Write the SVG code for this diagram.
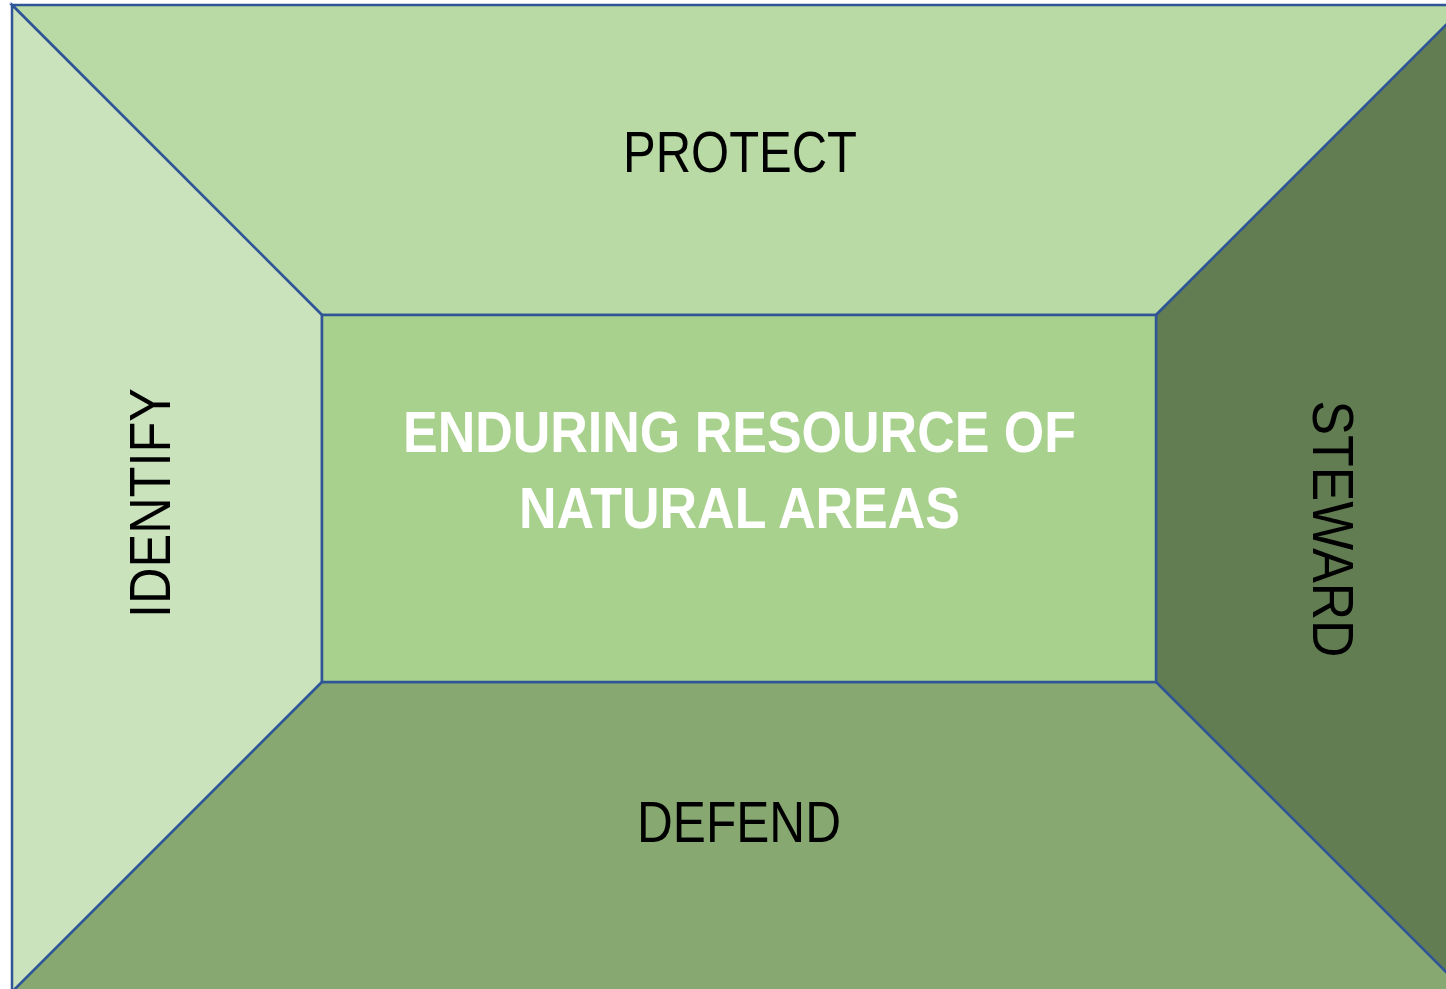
<svg xmlns="http://www.w3.org/2000/svg" width="1446" height="989" viewBox="0 0 1446 989">
<style>
.s{stroke:#2F5597;stroke-width:2.5;stroke-linejoin:miter}
.lbl{font-family:"Liberation Sans",Arial,sans-serif;font-size:57px;fill:#000;text-anchor:middle}
.ctr{font-family:"Liberation Sans",Arial,sans-serif;font-size:57px;font-weight:bold;fill:#fff;text-anchor:middle}
</style>
<rect width="1446" height="989" fill="#ffffff"/>
<g id="protect">
<polygon class="s" fill="#B9DAA5" points="12,5 1466,5 1156,315 322,315"/>
<text class="lbl" x="740" y="172" textLength="234" lengthAdjust="spacingAndGlyphs">PROTECT</text>
</g>
<g id="identify">
<polygon class="s" fill="#CAE3BC" points="12,5 322,315 322,682 12,992"/>
<text class="lbl" transform="translate(170,503) rotate(-90)" x="0" y="0" textLength="230" lengthAdjust="spacingAndGlyphs">IDENTIFY</text>
</g>
<g id="steward">
<polygon class="s" fill="#637D53" points="1466,5 1466,992 1156,682 1156,315"/>
<text class="lbl" transform="translate(1313,529) rotate(90)" x="0" y="0" textLength="257" lengthAdjust="spacingAndGlyphs">STEWARD</text>
</g>
<g id="defend">
<polygon class="s" fill="#88A871" points="322,682 1156,682 1466,992 12,992"/>
<text class="lbl" x="739" y="842" textLength="204" lengthAdjust="spacingAndGlyphs">DEFEND</text>
</g>
<g id="center">
<rect class="s" fill="#A9D18E" x="322" y="315" width="834" height="367"/>
<text class="ctr" x="739.5" y="452" textLength="673" lengthAdjust="spacingAndGlyphs">ENDURING RESOURCE OF</text>
<text class="ctr" x="739.5" y="528" textLength="441" lengthAdjust="spacingAndGlyphs">NATURAL AREAS</text>
</g>
<g id="connectors"></g>
</svg>
